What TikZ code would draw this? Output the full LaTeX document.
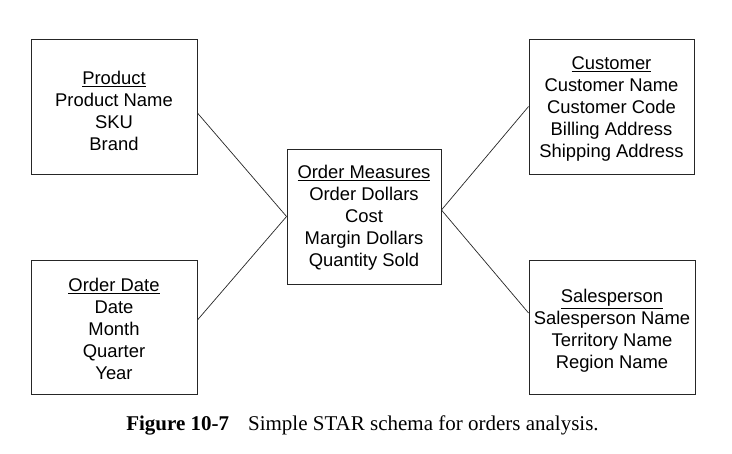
\documentclass[tikz,border=0pt]{standalone}
\usepackage{fontspec}
\setmainfont{Liberation Serif}
\newfontfamily\boxfont{Liberation Sans}
\usetikzlibrary{positioning}

% table title, with a strut that pushes the lines down a little
\newcommand{\tablehead}[2]{\rule{0pt}{#1}\underline{#2}}

\tikzset{
  dimbox/.style={draw=black!85, line width=0.9pt, align=center, inner sep=0pt,
    font=\boxfont\fontsize{18.4}{22}\selectfont},
  link/.style={draw=black!85, line width=0.7pt}
}

\begin{document}
\begin{tikzpicture}[x=1pt,y=1pt]
        \useasboundingbox (0,0) rectangle (732,-454);
        % dimension tables and the fact table
        \node[dimbox, minimum width=166pt, minimum height=135pt] (product) at (114,-106.5)
            {\tablehead{22pt}{Product}\\Product Name\\SKU\\Brand};
        \node[dimbox, minimum width=166pt, minimum height=134pt] (orderdate) at (114,-327)
            {\tablehead{17.5pt}{Order Date}\\Date\\Month\\Quarter\\Year};
        \node[dimbox, minimum width=154pt, minimum height=135pt] (measures) at (364,-216.5)
            {\tablehead{15.5pt}{Order Measures}\\Order Dollars\\Cost\\Margin Dollars\\Quantity Sold};
        \node[dimbox, minimum width=165pt, minimum height=135pt] (customer) at (611.5,-106.5)
            {\tablehead{17.5pt}{Customer}\\Customer Name\\Customer Code\\Billing Address\\Shipping Address};
        \node[dimbox, minimum width=166pt, minimum height=134pt] (salesperson) at (612,-327)
            {\tablehead{21.5pt}{Salesperson}\\Salesperson Name\\Territory Name\\Region Name};
        % star links
        \draw[link] ([yshift=-6.5pt]product.east) -- (measures.west);
        \draw[link] ([yshift=7pt]orderdate.east) -- (measures.west);
        \draw[link] (customer.west) -- ([yshift=6.5pt]measures.east);
        \draw[link] ([yshift=14pt]salesperson.west) -- ([yshift=6.5pt]measures.east);
        \node[anchor=base, font=\fontsize{21}{25}\selectfont] (caption) at (362.5,-431)
            {\textbf{Figure 10-7}\hspace{19pt}Simple STAR schema for orders analysis.};
    \end{tikzpicture}
\end{document}
